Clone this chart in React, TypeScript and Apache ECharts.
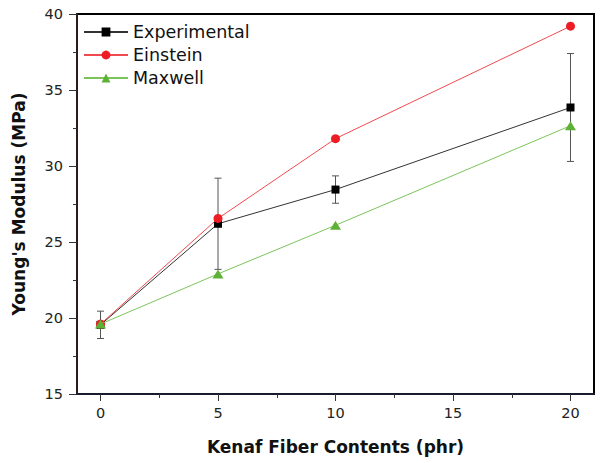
import React, { useEffect, useRef } from "react";
import * as echarts from "echarts";

const fiberContents = [0, 5, 10, 20];
const experimental = [19.55, 26.2, 28.45, 33.85];
const experimentalError = [0.9, 3.0, 0.9, 3.55];
const einstein = [19.6, 26.55, 31.8, 39.2];
const maxwell = [19.6, 22.9, 26.1, 32.65];
const xMajorTicks = [0, 5, 10, 15, 20];
const xMinorTicks = [2.5, 7.5, 12.5, 17.5];
const seriesNames = ["Experimental", "Einstein", "Maxwell"];

const FONT = "DejaVu Sans";
const TICK_COLOR = "#333333";

export default function App() {
  const ref = useRef<HTMLDivElement>(null);

  useEffect(() => {
    if (!ref.current) return;
    const chart = echarts.init(ref.current, undefined, { renderer: "svg" });

    const pairs = (ys: number[]) => fiberContents.map((x, i) => [x, ys[i]]);
    const errData = fiberContents.map((x, i) => [
      x,
      experimental[i] - experimentalError[i],
      experimental[i] + experimentalError[i],
    ]);

    const option: any = {
      animation: false,
      grid: {
        left: 77,
        right: 6,
        top: 14,
        bottom: 69,
        show: true,
        borderColor: "#000000",
        borderWidth: 2,
      },
      legend: {
        data: seriesNames,
        orient: "vertical",
        left: 83,
        top: 23,
        padding: 0,
        itemWidth: 44,
        itemHeight: 11,
        itemGap: 5,
        textStyle: { fontFamily: FONT, fontSize: 17.5, color: "#111" },
      },
      xAxis: [
        {
          type: "value",
          min: -1,
          max: 21,
          position: "bottom",
          axisLine: { show: true, onZero: false, lineStyle: { color: "#1a1a2e", width: 2 } },
          axisTick: {
            show: true,
            inside: false,
            length: 7,
            customValues: xMajorTicks,
            lineStyle: { color: TICK_COLOR, width: 1 },
          },
          axisLabel: {
            customValues: xMajorTicks,
            fontFamily: FONT,
            fontSize: 14.5,
            color: "#222",
            margin: 11,
          },
          splitLine: { show: false },
          name: "Kenaf Fiber Contents (phr)",
          nameLocation: "middle",
          nameGap: 44,
          nameTextStyle: { fontFamily: FONT, fontWeight: "bold", fontSize: 17, color: "#111" },
        },
        {
          type: "value",
          min: -1,
          max: 21,
          position: "bottom",
          axisLine: { show: false, onZero: false },
          axisTick: {
            show: true,
            inside: false,
            length: 4,
            customValues: xMinorTicks,
            lineStyle: { color: TICK_COLOR, width: 1 },
          },
          axisLabel: { show: false },
          splitLine: { show: false },
        },
      ],
      yAxis: {
        type: "value",
        min: 15,
        max: 40,
        interval: 5,
        axisLine: { show: true, onZero: false, lineStyle: { color: "#2e1a1a", width: 2 } },
        axisTick: { show: true, inside: false, length: 8, lineStyle: { color: TICK_COLOR, width: 1 } },
        minorTick: { show: true, splitNumber: 2, length: 4, lineStyle: { color: TICK_COLOR, width: 1 } },
        axisLabel: { fontFamily: FONT, fontSize: 14.5, color: "#222", margin: 14 },
        splitLine: { show: false },
        name: "Young's Modulus (MPa)",
        nameLocation: "middle",
        nameGap: 50,
        nameTextStyle: { fontFamily: FONT, fontWeight: "bold", fontSize: 17, color: "#111" },
      },
      series: [
        {
          type: "custom",
          name: "error",
          data: errData,
          encode: { x: 0, y: [1, 2] },
          z: 1,
          silent: true,
          clip: false,
          renderItem: (params: any, api: any) => {
            const x = api.value(0);
            const lo = api.coord([x, api.value(1)]);
            const hi = api.coord([x, api.value(2)]);
            const w = 3.5;
            const st = { stroke: "#555", lineWidth: 1 };
            return {
              type: "group",
              children: [
                { type: "line", shape: { x1: lo[0], y1: lo[1], x2: hi[0], y2: hi[1] }, style: st },
                { type: "line", shape: { x1: lo[0] - w, y1: lo[1], x2: lo[0] + w, y2: lo[1] }, style: st },
                { type: "line", shape: { x1: hi[0] - w, y1: hi[1], x2: hi[0] + w, y2: hi[1] }, style: st },
              ],
            };
          },
        },
        {
          type: "line",
          name: "Experimental",
          data: pairs(experimental),
          symbol: "rect",
          symbolSize: 8,
          z: 3,
          itemStyle: { color: "#000" },
          lineStyle: { color: "#333", width: 1 },
        },
        {
          type: "line",
          name: "Einstein",
          data: pairs(einstein),
          symbol: "circle",
          symbolSize: 9,
          z: 4,
          itemStyle: { color: "#ee1c24" },
          lineStyle: { color: "#f04a4f", width: 1 },
        },
        {
          type: "line",
          name: "Maxwell",
          data: pairs(maxwell),
          symbol: "triangle",
          symbolSize: [11, 9],
          z: 5,
          itemStyle: { color: "#5db135" },
          lineStyle: { color: "#7cc45a", width: 1 },
        },
      ],
    };

    chart.setOption(option);
    return () => chart.dispose();
  }, []);

  return <div ref={ref} style={{ width: 600, height: 463, position: "absolute", left: 0, top: 0 }} />;
}
